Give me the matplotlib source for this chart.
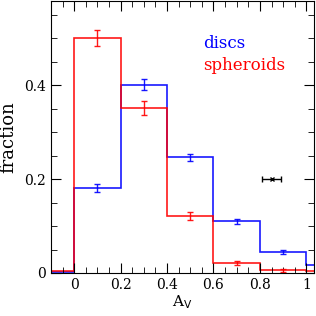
import numpy as np
import matplotlib
matplotlib.use("Agg")
import matplotlib.pyplot as plt
from matplotlib.ticker import MultipleLocator

# bin edges in A_V
edges = [-0.2, 0.0, 0.2, 0.4, 0.6, 0.8, 1.0, 1.2]

# histogram fractions and errors
discs = [0.003, 0.181, 0.401, 0.246, 0.110, 0.045, 0.017]
discs_err = [0.0, 0.008, 0.012, 0.008, 0.006, 0.004, 0.0]
spheroids = [0.005, 0.500, 0.351, 0.121, 0.022, 0.006, 0.004]
spheroids_err = [0.0, 0.017, 0.015, 0.008, 0.004, 0.003, 0.0]

# typical uncertainty marker
typ_x, typ_y, typ_xerr = 0.85, 0.2, 0.042

plt.rcParams['font.family'] = ['DejaVu Serif']

fig = plt.figure(figsize=(3.16, 3.16), dpi=100)
ax = fig.add_axes([51 / 316, 43 / 316, 263 / 316, 272 / 316])

centres = 0.5 * (np.array(edges[:-1]) + np.array(edges[1:]))

for vals, errs, col in [(discs, discs_err, 'blue'), (spheroids, spheroids_err, 'red')]:
    ax.stairs(vals, edges, color=col, lw=1.2, alpha=0.9)
    e = np.array(errs)
    m = e > 0
    ax.errorbar(centres[m], np.array(vals)[m], yerr=e[m], fmt='none',
                ecolor=col, elinewidth=1.0, capsize=2.5, alpha=0.9)

ax.errorbar([typ_x], [typ_y], xerr=[typ_xerr], fmt='x', color='black',
            ms=3, mew=1, elinewidth=1, capsize=2.5)

ax.text(0.555, 0.479, 'discs', color='blue', fontsize=12)
ax.text(0.555, 0.432, 'spheroids', color='red', fontsize=12)

ax.set_xlim(-0.1, 1.033)
ax.set_ylim(0, 0.579)
ax.xaxis.set_major_locator(MultipleLocator(0.2))
ax.xaxis.set_minor_locator(MultipleLocator(0.05))
ax.yaxis.set_major_locator(MultipleLocator(0.2))
ax.yaxis.set_minor_locator(MultipleLocator(0.05))
ax.set_xticks([0, 0.2, 0.4, 0.6, 0.8, 1.0])
ax.set_xticklabels(['0', '0.2', '0.4', '0.6', '0.8', '1'])
ax.set_yticks([0, 0.2, 0.4])
ax.set_yticklabels(['0', '0.2', '0.4'])
ax.tick_params(which='both', direction='in', top=True, right=True, labelsize=10)
ax.tick_params(which='major', length=7)
ax.tick_params(which='minor', length=4)
ax.set_xlabel(r'A$_\mathrm{V}$', fontsize=11, labelpad=1)
ax.set_ylabel('fraction', fontsize=13, labelpad=5)

fig.savefig('out.png', dpi=100)
